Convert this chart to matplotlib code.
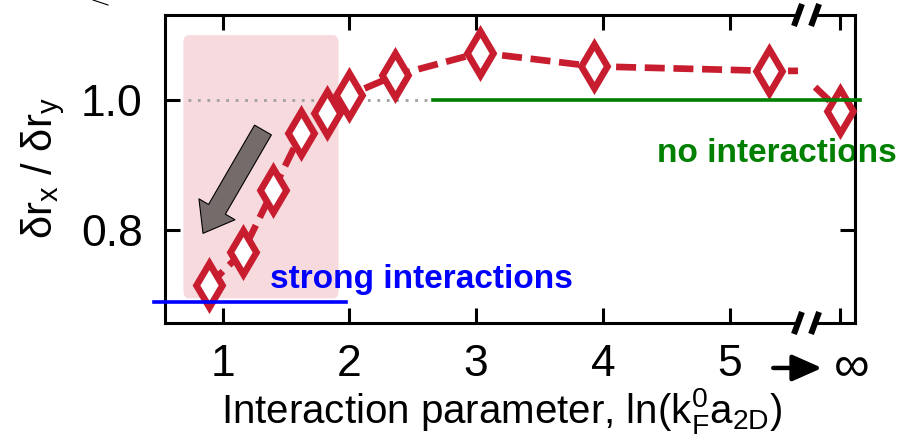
import matplotlib
matplotlib.use("Agg")
import matplotlib.pyplot as plt
from matplotlib.patches import FancyBboxPatch
from matplotlib.lines import Line2D

plt.rcParams['font.family'] = ['Liberation Sans', 'DejaVu Sans']
plt.rcParams['mathtext.fontset'] = 'custom'
plt.rcParams['mathtext.rm'] = 'Liberation Sans'
plt.rcParams['mathtext.it'] = 'Liberation Sans:italic'
plt.rcParams['mathtext.bf'] = 'Liberation Sans:bold'

# anisotropy ratio vs. interaction parameter ln(kF a2D)
x_finite = [0.89, 1.16, 1.40, 1.62, 1.82, 2.00, 2.36, 3.03, 3.93, 5.31]
ratio_finite = [0.715, 0.767, 0.862, 0.949, 0.980, 1.008, 1.038, 1.073, 1.052, 1.045]
# non-interacting limit, placed past the axis break
x_inf = 5.87
ratio_inf = 0.984

# axis break (ln -> infinity)
break_left, break_right = 5.54, 5.675

xtick_pos = [1, 2, 3, 4, 5]
xtick_labels = ['1', '2', '3', '4', '5']
ytick_pos = [0.8, 1.0]
ytick_labels = ['0.8', '1.0']

no_int_level = 1.0
strong_level = 0.689

red = '#c81d2e'
tick_size = 32

fig = plt.figure(figsize=(9.03, 4.41), dpi=100)
ax = fig.add_axes([165 / 903, 1 - 323 / 441, 690 / 903, 308 / 441])
ax.set_xlim(0.545, 5.99)
ax.set_ylim(0.657, 1.131)

# shaded strong-interaction region
ax.add_patch(FancyBboxPatch((0.69, 0.695), 1.225, 0.405,
                            boxstyle='round,pad=0,rounding_size=0.04',
                            mutation_aspect=0.4 / 1.2,
                            fc='#f7dade', ec='none', zorder=0))

# reference levels
ax.plot([0.73, 2.66], [no_int_level] * 2, color='#a0a0a0', lw=2,
        ls=(0, (1, 2.4)), zorder=1)
ax.plot([2.66, 6.03], [no_int_level] * 2, color='#008000', lw=2.6,
        zorder=6, clip_on=False)
ax.plot([0.46, 1.97], [strong_level] * 2, color='#0000ff', lw=2.6,
        zorder=6, clip_on=False)

# dashed connecting line, interrupted at the axis break
dash = (0, (3.0, 1.3))
ax.plot(x_finite + [break_left], ratio_finite + [ratio_finite[-1]],
        color=red, lw=4.8, ls=dash, zorder=3)
frac = (break_right - break_left) / (x_inf - break_left)
y_resume = ratio_finite[-1] + (ratio_inf - ratio_finite[-1]) * frac
ax.plot([break_right, x_inf], [y_resume, ratio_inf],
        color=red, lw=4.8, ls=dash, zorder=3)

# markers
ax.plot(x_finite + [x_inf], ratio_finite + [ratio_inf], ls='none',
        marker='d', ms=22.5, mfc='white', mec=red, mew=4.8, zorder=4,
        clip_on=False)

# direction arrow
ax.annotate('', xy=(0.845, 0.795), xytext=(1.318, 0.954),
            arrowprops=dict(arrowstyle='simple,head_length=20,head_width=30,tail_width=14',
                            mutation_scale=1, fc='#766b6b', ec='black', lw=0.8,
                            shrinkA=0, shrinkB=0), zorder=5)

# annotations
ax.text(1.373, strong_level + 0.0225, 'strong interactions', color='#0000ff',
        fontsize=24, fontweight='bold', ha='left', va='baseline', zorder=7)
ax.text(5.37, 0.905, 'no interactions', color='#008000',
        fontsize=24, fontweight='bold', ha='center', va='baseline', zorder=2,
        clip_on=False)

# ticks
ax.set_xticks(xtick_pos + [x_inf])
ax.set_xticklabels(xtick_labels + [''])
ax.set_yticks(ytick_pos)
ax.set_yticklabels(ytick_labels)
ax.tick_params(direction='in', length=11, width=2.2, top=True, right=True,
               labelsize=tick_size)
ax.tick_params(axis='x', pad=15)
ax.tick_params(axis='y', pad=16)
for sp in ax.spines.values():
    sp.set_linewidth(2.2)

# "-> infinity" label
xt = ax.get_xaxis_transform()
ax.annotate('', xy=(5.73, -0.146), xytext=(5.345, -0.146), xycoords=xt,
            textcoords=xt,
            arrowprops=dict(arrowstyle='-|>,head_length=0.9,head_width=0.4',
                            lw=3.2, color='black', mutation_scale=20,
                            shrinkA=0, shrinkB=0), annotation_clip=False)
ax.text(5.96, -0.146, '\u221e', transform=xt, fontsize=36, ha='center',
        va='center')

# axis break marks on top and bottom spines
dx, dy = 0.0316, 0.0357
for yb in (0.0, 1.0):
    ax.plot([break_left + 0.01, break_right - 0.01], [yb, yb], transform=xt,
            color='white', lw=5, solid_capstyle='butt', zorder=8, clip_on=False)
    for xb in (break_left, break_right):
        ax.plot([xb - dx, xb + dx], [yb - dy, yb + dy], transform=xt,
                color='black', lw=4.3, solid_capstyle='butt', zorder=9,
                clip_on=False)

ax.set_xlabel(r'Interaction parameter, ln($\mathrm{k_F^0a_{2D}}$)', fontsize=29)
ax.xaxis.set_label_coords((502 - 165) / 690, -0.205)
ax.set_ylabel(r'δr$_\mathrm{x}$ / δr$_\mathrm{y}$', fontsize=30)
ax.yaxis.set_label_coords(-0.142, 0.503)

fig.add_artist(Line2D([93 / 903, 108 / 903], [1.0, 1 - 5 / 441], color='black',
                      lw=0.8))

fig.savefig('out.png', dpi=100)
